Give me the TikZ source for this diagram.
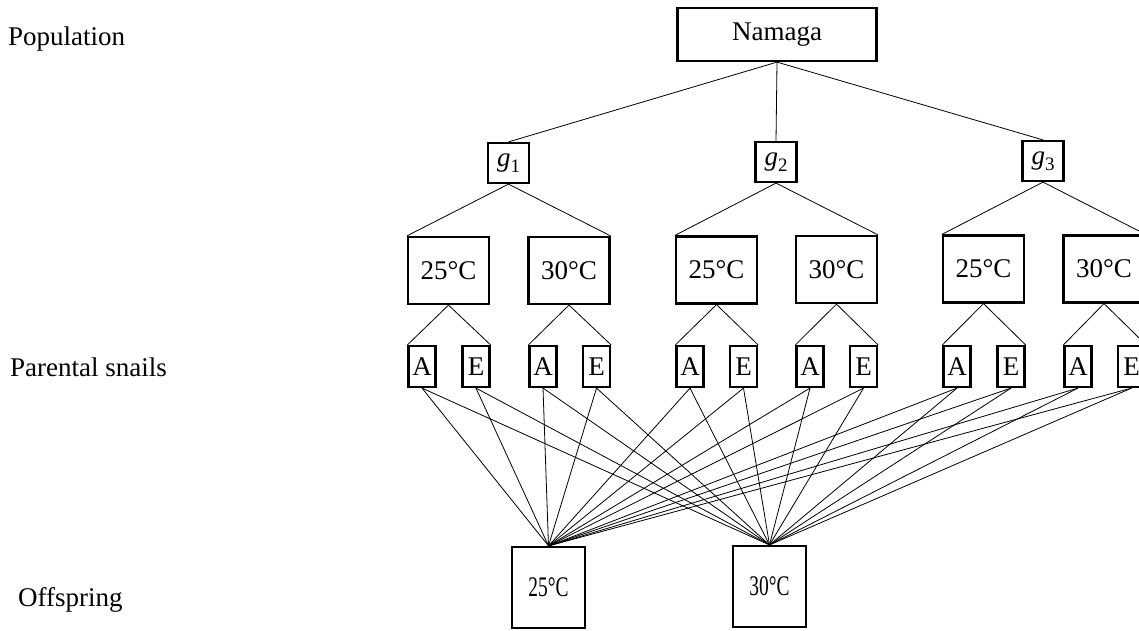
\documentclass[tikz,border=0pt]{standalone}
\usepackage{fontspec}
\setmainfont{Liberation Serif}
\begin{document}
\begin{tikzpicture}[x=1pt,y=-1pt,
  every node/.style={font=\fontsize{27}{32}\selectfont},
  box/.style={draw, line width=2.2pt, inner sep=0pt, align=center},
  tempbox/.style={box, minimum width=81pt, minimum height=67pt},
  snail/.style={box, minimum width=27pt, minimum height=41pt},
  offbox/.style={box, minimum width=73pt, minimum height=81pt},
  gbox/.style={box, minimum width=41pt, minimum height=40pt},
  link/.style={line width=0.8pt},
  rowlabel/.style={anchor=base west, inner sep=0pt}]
\useasboundingbox (0,0) rectangle (1139,630);

% row labels
\node[rowlabel] (lpop) at (8,45) {Population};
\node[rowlabel] (lpar) at (10,376) {Parental snails};
\node[rowlabel] (loff) at (18,606) {Offspring};

% population
\node[box, minimum width=199pt, minimum height=53pt] (nam) at (777,34.5) {Namaga};

% genotypes
\newcommand{\gname}[1]{\textit{g}\raisebox{-0.22em}{\fontsize{19}{20}\selectfont #1}}
\node[gbox] (g1) at (508.5,163) {\gname{1}};
\node[gbox] (g2) at (776,162) {\gname{2}};
\node[gbox] (g3) at (1043,161) {\gname{3}};

% rearing temperatures
\node[tempbox] (t1a) at (448.5,270.5) {25°C};
\node[tempbox] (t1b) at (569,270.5) {30°C};
\node[tempbox] (t2a) at (716.5,270) {25°C};
\node[tempbox] (t2b) at (836.5,269.5) {30°C};
\node[tempbox] (t3a) at (983.5,269) {25°C};
\node[tempbox] (t3b) at (1104,269) {30°C};

% parental snails
\foreach \t/\xa/\xe in {1a/422/476, 1b/543/596.5, 2a/690/743.5, 2b/810/863.5, 3a/957/1011, 3b/1078/1131.5}{
  \node[snail] (A\t) at (\xa,366.5) {A};
  \node[snail] (E\t) at (\xe,366.5) {E};
}

% offspring
\node[offbox] (o25) at (548.5,587.5) {\scalebox{0.72}[1.05]{25°C}};
\node[offbox] (o30) at (769.5,586.5) {\scalebox{0.72}[1.05]{30°C}};

% tree connectors
\foreach \g in {g1,g2,g3} \draw[link] (nam.south) -- (\g.north);
\foreach \g/\t in {g1/1, g2/2, g3/3}{
  \draw[link] (\g.south) -- (t\t a.north west);
  \draw[link] (\g.south) -- (t\t b.north east);
}
\foreach \t in {1a,1b,2a,2b,3a,3b}{
  \draw[link] (t\t.south) -- (A\t.north west);
  \draw[link] (t\t.south) -- (E\t.north east);
  \foreach \s in {A,E}{
    \draw[link] (\s\t.south) -- (o25.north);
    \draw[link] (\s\t.south) -- (o30.north);
  }
}
\end{tikzpicture}
\end{document}
